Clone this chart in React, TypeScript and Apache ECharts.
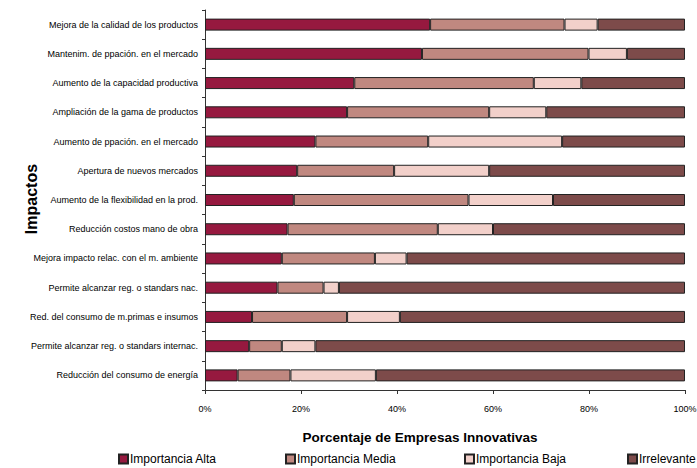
import React, { useEffect, useRef } from "react";
import * as echarts from "echarts";

const categories = [
  "Mejora de la calidad de los productos",
  "Mantenim. de ppación. en el mercado",
  "Aumento de la capacidad productiva",
  "Ampliación de la gama de productos",
  "Aumento de ppación. en el mercado",
  "Apertura de nuevos mercados",
  "Aumento de la flexibilidad en la prod.",
  "Reducción costos mano de obra",
  "Mejora impacto relac. con el m. ambiente",
  "Permite alcanzar reg. o standars nac.",
  "Red. del consumo de m.primas e insumos",
  "Permite alcanzar reg. o standars internac.",
  "Reducción del consumo de energía",
];

const alta = [46.9, 45.2, 31.1, 29.6, 23.0, 19.2, 18.5, 17.2, 16.0, 15.1, 9.8, 9.2, 6.8];
const media = [28.0, 34.7, 37.4, 29.6, 23.5, 20.2, 36.4, 31.3, 19.4, 9.6, 19.8, 6.8, 11.0];
const baja = [6.9, 8.0, 9.9, 11.9, 27.9, 19.8, 17.6, 11.5, 6.6, 3.2, 11.0, 7.0, 17.8];
const irrelevante = [18.2, 12.1, 21.6, 28.9, 25.6, 40.8, 27.5, 40.0, 58.0, 72.1, 59.4, 77.0, 64.4];

const seriesNames = ["Importancia Alta", "Importancia Media", "Importancia Baja", "Irrelevante"];
const seriesData = [alta, media, baja, irrelevante];
const colors = ["#96193f", "#c08880", "#f2d0ca", "#7d4b4a"];
const legendLeft = [118, 285, 464, 627];

const xTitle = "Porcentaje de Empresas Innovativas";
const yTitle = "Impactos";

const FONT = "'Liberation Sans', Arial, sans-serif";

export default function App() {
  const ref = useRef<HTMLDivElement>(null);
  useEffect(() => {
    if (!ref.current) return;
    const chart = echarts.init(ref.current, null, { renderer: "svg" });
    chart.setOption({
      animation: false,
      backgroundColor: "#ffffff",
      textStyle: { fontFamily: FONT },
      grid: { left: 205, right: 12, top: 10, bottom: 78, containLabel: false, outerBoundsMode: "none" },
      legend: seriesNames.map((n, i) => ({
        data: [n],
        left: legendLeft[i],
        top: 453,
        itemWidth: 9,
        itemHeight: 9,
        itemGap: 2,
        padding: 0,
        icon: "rect",
        textStyle: { fontFamily: FONT, fontSize: 12, color: "#000", padding: [0, 0, 0, -3] },
      })),
      graphic: [
        {
          type: "text",
          x: 420,
          y: 437,
          style: {
            text: xTitle,
            fontFamily: FONT,
            fontSize: 13.5,
            fontWeight: "bold",
            fill: "#000",
            textAlign: "center",
            textVerticalAlign: "middle",
          },
        },
        {
          type: "text",
          x: 31,
          y: 199,
          rotation: Math.PI / 2,
          style: {
            text: yTitle,
            fontFamily: FONT,
            fontSize: 16,
            fontWeight: "bold",
            fill: "#000",
            textAlign: "center",
            textVerticalAlign: "middle",
          },
        },
      ],
      xAxis: {
        type: "value",
        min: 0,
        max: 100,
        interval: 20,
        axisLine: { show: true, lineStyle: { color: "#333", width: 1 } },
        axisTick: { show: true, length: 4, lineStyle: { color: "#333" } },
        axisLabel: { formatter: "{value}%", fontSize: 9, color: "#000", margin: 14 },
        splitLine: { show: false },
      },
      yAxis: {
        type: "category",
        inverse: true,
        data: categories,
        axisLine: { show: true, lineStyle: { color: "#333", width: 1 } },
        axisTick: { show: true, length: 3, lineStyle: { color: "#333" } },
        axisLabel: { fontSize: 9, color: "#000", margin: 7 },
      },
      series: seriesNames.map((n, i) => ({
        name: n,
        type: "bar",
        stack: "total",
        barWidth: 12,
        data: seriesData[i],
        itemStyle: { color: colors[i], borderColor: "#222", borderWidth: 1 },
      })),
    });
    return () => chart.dispose();
  }, []);
  return <div ref={ref} style={{ position: "fixed", left: 0, top: 0, width: 697, height: 468 }} />;
}
